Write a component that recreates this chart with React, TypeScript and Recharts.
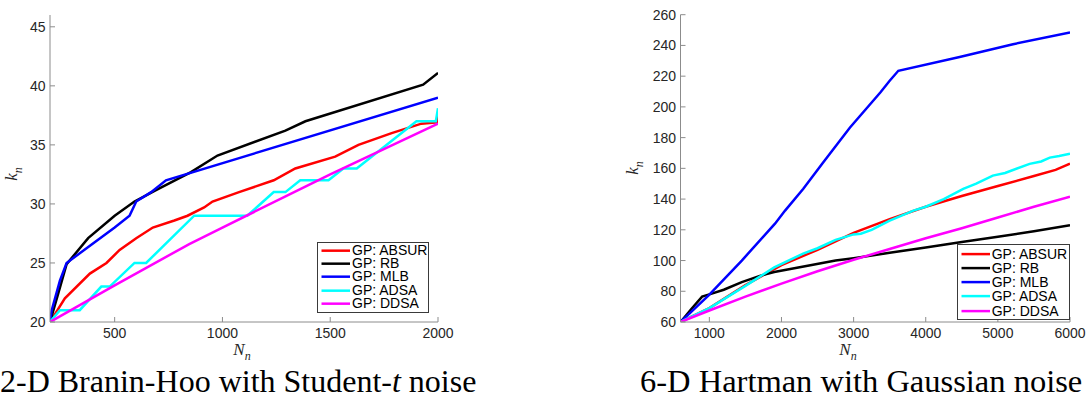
import { LineChart, Line, XAxis, YAxis, Legend } from 'recharts'

// series names and colours (same order in both panels)
const SERIES_NAMES = ['GP: ABSUR', 'GP: RB', 'GP: MLB', 'GP: ADSA', 'GP: DDSA']
const SERIES_COLORS = ['#ff0000', '#000000', '#0000ff', '#00ffff', '#ff00ff']

// 2-D Branin-Hoo, Student-t noise
const branAbsurN = [200, 269, 385, 462, 523, 600, 677, 777, 838, 915, 954, 1077, 1238, 1338, 1523, 1631, 1785, 1923, 1995, 2000]
const branAbsurK = [20, 22, 24.1, 25, 26.1, 27.1, 28, 28.6, 29, 29.7, 30.2, 31, 32, 33, 34, 35, 36, 36.8, 36.9, 37.8]
const branRbN = [200, 238, 277, 377, 500, 592, 685, 854, 977, 1292, 1385, 1931, 2000]
const branRbK = [20, 22.4, 24.9, 27.1, 29, 30.2, 31.1, 32.7, 34.1, 36.2, 37, 40.1, 41.1]
const branMlbN = [200, 208, 246, 277, 500, 569, 600, 669, 738, 2000]
const branMlbK = [20, 21, 23.5, 25, 28, 29, 30.2, 31, 32, 39]
const branAdsaN = [200, 246, 338, 438, 477, 592, 646, 869, 1115, 1238, 1292, 1361, 1492, 1561, 1623, 1900, 1990, 2000]
const branAdsaK = [20, 21, 21, 23, 23, 25, 25, 29, 29, 31, 31, 32, 32, 33, 33, 37, 37, 38.1]
const branDdsaN = [200, 500, 846, 1000, 1500, 2000]
const branDdsaK = [20, 23.1, 26.6, 28, 32.5, 36.8]

const branXTicks = [500, 1000, 1500, 2000]
const branYTicks = [20, 25, 30, 35, 40, 45]

// 6-D Hartman, Gaussian noise
const hartAbsurN = [600, 1000, 1500, 2000, 2500, 3000, 3500, 4000, 4500, 5000, 5500, 5800, 6000]
const hartAbsurK = [60, 69, 84, 97, 107, 118, 127, 135, 142, 148.5, 155, 159, 163]
const hartRbN = [600, 750, 900, 1000, 1200, 1450, 1700, 1900, 2400, 2750, 3000, 3500, 4000, 4500, 5000, 5500, 6000]
const hartRbK = [60, 68.5, 76.5, 78, 81, 86, 90, 92.5, 97, 100, 101.5, 105, 108.5, 112, 115.5, 119, 123]
const hartMlbN = [600, 990, 1450, 1910, 2050, 2300, 2580, 2950, 3370, 3500, 3620, 4470, 5210, 6000]
const hartMlbK = [60, 77.3, 100, 124, 132.5, 146.6, 164, 186.6, 209.4, 217, 223.5, 232.5, 240.8, 248.5]
const hartAdsaN = [600, 1000, 1500, 1900, 2300, 2500, 2750, 3000, 3100, 3250, 3500, 3830, 4000, 4250, 4520, 4700, 4930, 5100, 5440, 5600, 5720, 5850, 6000]
const hartAdsaK = [60, 69, 83.5, 95.5, 104.5, 108, 113.5, 117, 117.5, 120, 126, 132.5, 135, 140, 146.6, 150, 155.3, 157, 162.9, 164.5, 167, 168, 169.5]
const hartDdsaN = [600, 1000, 1500, 2000, 2500, 3000, 3500, 4000, 4500, 5000, 5500, 6000]
const hartDdsaK = [60, 67.5, 76.5, 85, 93, 100.5, 107.5, 114.5, 121, 128, 135, 141.5]

const hartXTicks = [1000, 2000, 3000, 4000, 5000, 6000]
const hartYTicks = [60, 80, 100, 120, 140, 160, 180, 200, 220, 240, 260]

const AXIS = '#8c8c8c'
const TEXT = '#262626'
const SANS = '"Liberation Sans", Arial, Helvetica, sans-serif'
const SERIF = '"Liberation Serif", "Times New Roman", serif'

const zip = (n: number[], k: number[]) => n.map((v, i) => ({ n: v, k: k[i] }))

const branSeries = [
  zip(branAbsurN, branAbsurK),
  zip(branRbN, branRbK),
  zip(branMlbN, branMlbK),
  zip(branAdsaN, branAdsaK),
  zip(branDdsaN, branDdsaK),
]
const hartSeries = [
  zip(hartAbsurN, hartAbsurK),
  zip(hartRbN, hartRbK),
  zip(hartMlbN, hartMlbK),
  zip(hartAdsaN, hartAdsaK),
  zip(hartDdsaN, hartDdsaK),
]

// inward tick marks like matlab
function YTick({ x, y, payload }: any) {
  return (
    <g>
      <line x1={x} y1={y} x2={x + 5} y2={y} stroke={AXIS} />
      <text x={x - 4.5} y={y + 5} textAnchor="end" fontSize={14} fill={TEXT} fontFamily={SANS}>
        {payload.value}
      </text>
    </g>
  )
}

function XTick({ x, y, payload }: any) {
  return (
    <g>
      <line x1={x} y1={y} x2={x} y2={y - 5} stroke={AXIS} />
      <text x={x} y={y + 16} textAnchor="middle" fontSize={14} fill={TEXT} fontFamily={SANS}>
        {payload.value}
      </text>
    </g>
  )
}

// legend keeps plotting order (recharts would sort by name)
function LegendBox({ rowH, padTop }: { rowH: number; padTop: number }) {
  return (
    <div
      style={{
        width: '100%',
        height: '100%',
        boxSizing: 'border-box',
        border: '1px solid #3a3a3a',
        background: '#fff',
        paddingTop: padTop,
      }}
    >
      {SERIES_NAMES.map((name, i) => (
        <div key={name} style={{ display: 'flex', alignItems: 'center', height: rowH }}>
          <svg width={34} height={rowH} style={{ display: 'block' }}>
            <line x1={3.5} x2={32} y1={rowH / 2} y2={rowH / 2} stroke={SERIES_COLORS[i]} strokeWidth={2.5} />
          </svg>
          <span style={{ fontFamily: SANS, fontSize: 14, color: '#000', lineHeight: `${rowH}px`, whiteSpace: 'nowrap' }}>
            {name}
          </span>
        </div>
      ))}
    </div>
  )
}

function KLabel({ left, top }: { left: number; top: number }) {
  return (
    <div
      style={{
        position: 'absolute',
        left,
        top,
        transform: 'translate(-50%, -50%) rotate(-90deg)',
        fontFamily: SERIF,
        fontSize: 17,
        color: TEXT,
        lineHeight: '17px',
        whiteSpace: 'nowrap',
      }}
    >
      <i>k</i>
      <sub style={{ fontSize: 12, fontStyle: 'italic' }}>n</sub>
    </div>
  )
}

function NLabel({ left, top }: { left: number; top: number }) {
  return (
    <div
      style={{
        position: 'absolute',
        left,
        top,
        transform: 'translate(-50%, -50%)',
        fontFamily: SERIF,
        fontSize: 17,
        color: TEXT,
        lineHeight: '17px',
        whiteSpace: 'nowrap',
      }}
    >
      <i>N</i>
      <sub style={{ fontSize: 12, fontStyle: 'italic' }}>n</sub>
    </div>
  )
}

function Panel(props: {
  series: { n: number; k: number }[][]
  width: number
  yWidth: number
  right: number
  top: number
  xDomain: [number, number]
  yDomain: [number, number]
  xTicks: number[]
  yTicks: number[]
  legend: { left: number; top: number; width: number; height: number; rowH: number; padTop: number }
}) {
  const { series, legend } = props
  return (
    <LineChart width={props.width} height={345} margin={{ top: props.top, right: props.right, bottom: 3, left: 0 }}>
      <XAxis
        dataKey="n"
        type="number"
        domain={props.xDomain}
        ticks={props.xTicks}
        allowDataOverflow
        height={20}
        tickSize={0}
        tickMargin={0}
        tickLine={false}
        axisLine={{ stroke: AXIS }}
        tick={(p: any) => <XTick {...p} />}
      />
      <YAxis
        type="number"
        domain={props.yDomain}
        ticks={props.yTicks}
        allowDataOverflow
        width={props.yWidth}
        tickSize={0}
        tickMargin={0}
        tickLine={false}
        axisLine={{ stroke: AXIS }}
        tick={(p: any) => <YTick {...p} />}
      />
      <Legend
        layout="vertical"
        align="center"
        verticalAlign="middle"
        wrapperStyle={{ left: legend.left, top: legend.top, width: legend.width, height: legend.height }}
        content={() => <LegendBox rowH={legend.rowH} padTop={legend.padTop} />}
      />
      {series.map((d, i) => (
        <Line
          key={SERIES_NAMES[i]}
          name={SERIES_NAMES[i]}
          data={d}
          dataKey="k"
          type="linear"
          stroke={SERIES_COLORS[i]}
          strokeWidth={2.5}
          dot={false}
          activeDot={false}
          isAnimationActive={false}
        />
      ))}
    </LineChart>
  )
}

export default function App() {
  return (
    <div style={{ position: 'absolute', left: 0, top: 0, width: 1090, height: 400, background: '#fff', overflow: 'hidden' }}>
      <div style={{ position: 'absolute', left: 0, top: 0 }}>
        <Panel
          series={branSeries}
          width={460}
          yWidth={50}
          right={22}
          top={15}
          xDomain={[200, 2000]}
          yDomain={[20, 46]}
          xTicks={branXTicks}
          yTicks={branYTicks}
          legend={{ left: 317, top: 242, width: 112, height: 71, rowH: 13.35, padTop: 0.5 }}
        />
      </div>
      <div style={{ position: 'absolute', left: 590, top: 0 }}>
        <Panel
          series={hartSeries}
          width={500}
          yWidth={90.5}
          right={20}
          top={14.7}
          xDomain={[600, 6000]}
          yDomain={[60, 260]}
          xTicks={hartXTicks}
          yTicks={hartYTicks}
          legend={{ left: 366.7, top: 244, width: 113.3, height: 76, rowH: 14.2, padTop: 1.8 }}
        />
      </div>

      <KLabel left={15} top={174} />
      <KLabel left={636} top={168} />
      <NLabel left={242} top={353} />
      <NLabel left={848} top={353} />

      <div style={{ position: 'absolute', left: 0, top: 365, fontFamily: SERIF, fontSize: 32, lineHeight: '32px', color: '#000', whiteSpace: 'nowrap' }}>
        2-D Branin-Hoo with Student-<i>t</i> noise
      </div>
      <div style={{ position: 'absolute', left: 640, top: 365, fontFamily: SERIF, fontSize: 32.5, lineHeight: '32px', color: '#000', whiteSpace: 'nowrap' }}>
        6-D Hartman with Gaussian noise
      </div>
    </div>
  )
}
